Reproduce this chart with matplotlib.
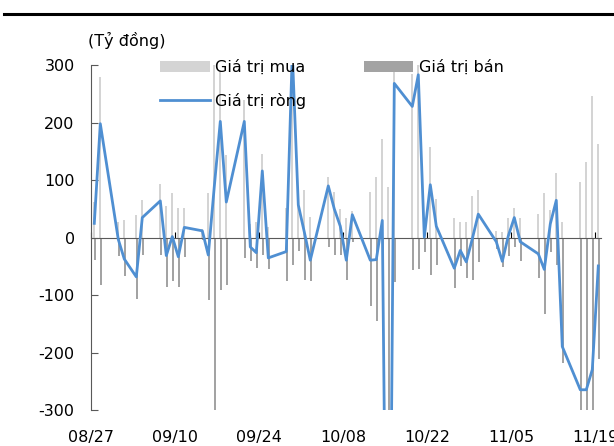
import matplotlib
matplotlib.use("Agg")
import matplotlib.pyplot as plt
import matplotlib.dates as mdates
from matplotlib.lines import Line2D
import pandas as pd

# trading days (2020)
dates = ["08/27", "08/28", "08/31", "09/01", "09/03", "09/04", "09/07", "09/08", "09/09", "09/10",
         "09/11", "09/14", "09/15", "09/16", "09/17", "09/18", "09/21", "09/22", "09/23", "09/24",
         "09/25", "09/28", "09/29", "09/30", "10/01", "10/02", "10/05", "10/06", "10/07", "10/08",
         "10/09", "10/12", "10/13", "10/14", "10/15", "10/16", "10/19", "10/20", "10/21", "10/22",
         "10/23", "10/26", "10/27", "10/28", "10/29", "10/30", "11/02", "11/03", "11/04", "11/05",
         "11/06", "11/09", "11/10", "11/11", "11/12", "11/13", "11/16", "11/17", "11/18", "11/19"]

# Giá trị mua (buy)
buy = [62, 279, 28, 30, 39, 65, 94, 55, 77, 52,
       51, 15, 78, 395, 292, 143, 239, 24, 27, 146,
       19, 51, 370, 80, 83, 36, 106, 80, 50, 35,
       47, 80, 106, 172, 88, 345, 284, 338, 25, 157,
       68, 34, 27, 28, 72, 83, 12, 10, 35, 51,
       34, 42, 78, 49, 113, 28, 96, 131, 247, 162]

# Giá trị bán (sell)
sell = [-38, -82, -32, -66, -106, -30, -30, -86, -75, -85,
        -33, -4, -108, -306, -90, -82, -36, -40, -53, -30,
        -54, -75, -48, -23, -73, -75, -16, -30, -30, -74,
        -7, -119, -144, -142, -1088, -77, -56, -55, -24, -65,
        -48, -87, -49, -70, -74, -42, -19, -51, -32, -16,
        -41, -70, -133, -25, -48, -217, -360, -395, -476, -211]

# Giá trị ròng (net)
net = [25, 198, -3, -37, -68, 35, 64, -31, 2, -33,
       18, 12, -30, 89, 202, 62, 202, -16, -26, 116,
       -35, -24, 322, 57, 10, -39, 90, 50, 20, -39,
       40, -39, -38, 30, -1000, 268, 228, 283, 1, 92,
       20, -53, -22, -42, -2, 41, -7, -41, 3, 35,
       -7, -28, -55, 24, 65, -189, -264, -264, -229, -49]

tick_labels = ["08/27", "09/10", "09/24", "10/08", "10/22", "11/05", "11/19"]

plt.rcParams['font.family'] = ['DejaVu Sans']
plt.rcParams['font.size'] = 11.5
plt.rcParams['axes.unicode_minus'] = False

d = pd.to_datetime(["2020/" + s for s in dates])
x = mdates.date2num(d) + 0.5
ticks = mdates.date2num(pd.to_datetime(["2020/" + s for s in tick_labels]))

fig = plt.figure(figsize=(6.14, 4.46), dpi=100)
ax = fig.add_axes([0.1487, 0.0796, 0.8306, 0.7747])

b1 = ax.bar(x - 0.1, buy, width=0.3, color='#d4d4d4', zorder=2)
b2 = ax.bar(x + 0.1, sell, width=0.3, color='#a3a3a3', zorder=2)
ln, = ax.plot(x, net, color='#4f8fd2', lw=2.0, zorder=4)

ax.set_ylim(-300, 300)
ax.set_yticks([-300, -200, -100, 0, 100, 200, 300])
ax.set_xlim(ticks[0], ticks[-1] + 1)

for s in ['top', 'right']:
    ax.spines[s].set_visible(False)
ax.spines['left'].set_color('#595959')
ax.spines['bottom'].set_position(('data', 0))
ax.spines['bottom'].set_color('#595959')
ax.spines['bottom'].set_zorder(3)
ax.tick_params(axis='y', direction='in', length=5, color='#595959', pad=12)
ax.set_xticks(ticks)
ax.tick_params(axis='x', direction='in', length=4, color='black', labelbottom=False)

sec = ax.secondary_xaxis('bottom')
sec.set_xticks(ticks)
sec.set_xticklabels(tick_labels)
sec.tick_params(length=0, pad=14)
sec.spines['bottom'].set_visible(False)

ax.legend([b1, ln, b2], ['Giá trị mua', 'Giá trị ròng', 'Giá trị bán'], ncol=2, frameon=False,
          loc='upper left', bbox_to_anchor=(160 / 614, 1 - 60 / 446),
          bbox_transform=fig.transFigure, borderpad=0, borderaxespad=0,
          handlelength=3.1, handletextpad=0.35, columnspacing=3.6, labelspacing=1.1)

fig.text(88 / 614, 1 - 40 / 446, "(Tỷ đồng)", ha='left', va='center')
fig.add_artist(Line2D([4 / 614, 1], [1 - 14 / 446, 1 - 14 / 446], color='black', lw=2.2))

fig.savefig("out.png", dpi=100)
